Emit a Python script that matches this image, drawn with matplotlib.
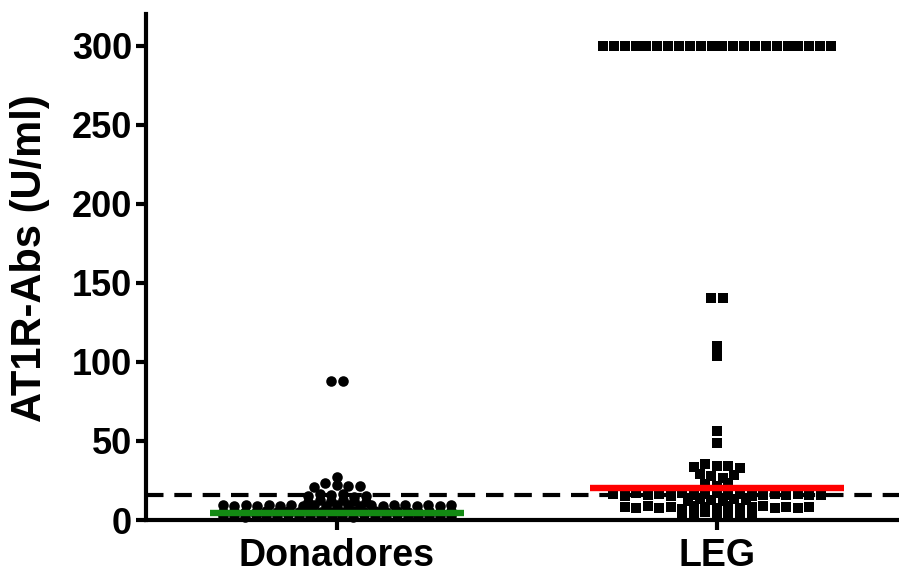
import numpy as np
import matplotlib
matplotlib.use("Agg")
import matplotlib.pyplot as plt

plt.rcParams["font.family"] = ["Liberation Sans", "DejaVu Sans"]
plt.rcParams["font.weight"] = "bold"

# ---- data -------------------------------------------------------------
groups = ["Donadores", "LEG"]

donadores = [
    # ~2-3 U/ml
    2.4, 2.8, 2.2, 3.0, 2.6, 2.5, 2.9, 2.3, 2.7, 2.4, 2.8,
    2.6, 2.2, 3.0, 2.5, 2.7, 2.9, 2.3, 2.6, 2.8, 2.4, 2.7,
    # ~5 U/ml
    5.1, 5.5, 4.9, 5.3, 5.7, 5.0, 5.4, 5.2, 5.6, 4.8, 5.3,
    5.1, 5.5, 5.0, 5.4, 5.2, 5.6, 4.9, 5.3, 5.7, 5.1, 5.4,
    # ~9 U/ml
    9.2, 8.8, 9.5, 9.0, 9.6, 8.7, 9.3, 9.1, 9.4, 8.9, 9.7,
    9.2, 9.0, 9.5, 8.8, 9.3, 9.6, 9.1, 9.4, 9.0, 9.3,
    # higher values
    11.6, 12.4, 11.9, 12.8, 12.1, 11.4,
    15.0, 16.4, 15.6, 16.6, 14.8, 15.2,
    21.0, 23.4, 22.2, 21.2, 21.8,
    27.2,
    88.0, 88.0,
]

leg = [
    # ~4 U/ml
    4.2, 3.6, 4.8, 3.2, 4.5, 3.9, 4.4,
    # ~8 U/ml
    8.2, 7.6, 8.8, 7.9, 8.5, 7.2, 8.9, 8.0, 7.7,
    8.6, 7.4, 8.3, 9.0, 7.8, 8.4, 7.5, 8.1,
    # ~12.5 U/ml
    12.2, 13.0, 12.6, 11.8, 13.3, 12.4,
    # ~16 U/ml
    16.2, 15.4, 16.8, 15.8, 16.5, 15.1, 16.9, 15.6, 16.3, 17.1,
    15.9, 16.6, 15.3, 16.0, 16.7, 15.5, 16.4, 15.7, 16.1,
    # higher values
    22.8, 21.5, 23.4,
    28.8, 27.8, 26.5, 28.6,
    33.5, 35.3, 34.0, 34.2, 33.0,
    49.0, 56.0,
    104.0, 110.0,
    140.5, 140.5,
    # upper detection limit
    300, 300, 300, 300, 300, 300, 300, 300, 300, 300, 300,
    300, 300, 300, 300, 300, 300, 300, 300, 300, 300, 300,
]

medians = [4.7, 20.4]
cutoff = 15.5

y_ticks = [0, 50, 100, 150, 200, 250, 300]
y_label = "AT1R-Abs (U/ml)"
median_colors = ["#138a13", "#ff0000"]
markers = ["o", "s"]


def scatter_offsets(values, spacing, max_half, row_height):
    """Column-scatter layout: values closer than row_height share a row,
    and each row is spread symmetrically around the group centre."""
    values = np.asarray(values, dtype=float)
    order = np.argsort(values, kind="stable")
    rows, current, start = [], [], None
    for i in order:
        if start is None or values[i] >= start + row_height:
            if current:
                rows.append(current)
            current, start = [i], values[i]
        else:
            current.append(i)
    if current:
        rows.append(current)
    offsets = np.zeros(len(values))
    for row in rows:
        row = sorted(row)
        n = len(row)
        step = spacing if n <= 1 else min(spacing, 2 * max_half / (n - 1))
        offsets[row] = (np.arange(n) - (n - 1) / 2) * step
    return offsets


W, H = 899, 573
fig = plt.figure(figsize=(W / 100, H / 100), dpi=100)
ax = fig.add_axes([146 / W, 1 - 520 / H, (W - 146) / W, (520 - 14) / H])
ax.set_xlim(-0.5026, 1.479)
ax.set_ylim(0, 320)

# cut-off line
ax.axhline(cutoff, color="black", lw=3, dashes=(4.2, 2.6), zorder=2)

for i, (vals, mk) in enumerate(zip([donadores, leg], markers)):
    offs = scatter_offsets(vals, spacing=0.0303, max_half=0.30, row_height=2.5)
    ms = 7.6 if mk == "o" else 6.8
    ax.plot(i + offs, vals, linestyle="none", marker=mk, ms=ms,
            color="black", markeredgewidth=0, clip_on=False, zorder=3)
    ax.hlines(medians[i], i - 0.333, i + 0.333, colors=median_colors[i],
              lw=4.6, zorder=4)

for side in ("top", "right"):
    ax.spines[side].set_visible(False)
for side in ("left", "bottom"):
    ax.spines[side].set_linewidth(3)

ax.set_yticks(y_ticks)
ax.set_xticks(range(len(groups)))
ax.set_xticklabels(groups)
ax.tick_params(axis="both", direction="out", length=7, width=3, pad=3)
ax.tick_params(axis="y", labelsize=26)
ax.tick_params(axis="x", labelsize=27, pad=6)
for lab in ax.get_xticklabels() + ax.get_yticklabels():
    lab.set_fontweight("bold")
ax.set_ylabel(y_label, fontsize=30, fontweight="bold")
ax.yaxis.set_label_coords(-0.127, 0.518)

fig.savefig("out.png", dpi=100)
